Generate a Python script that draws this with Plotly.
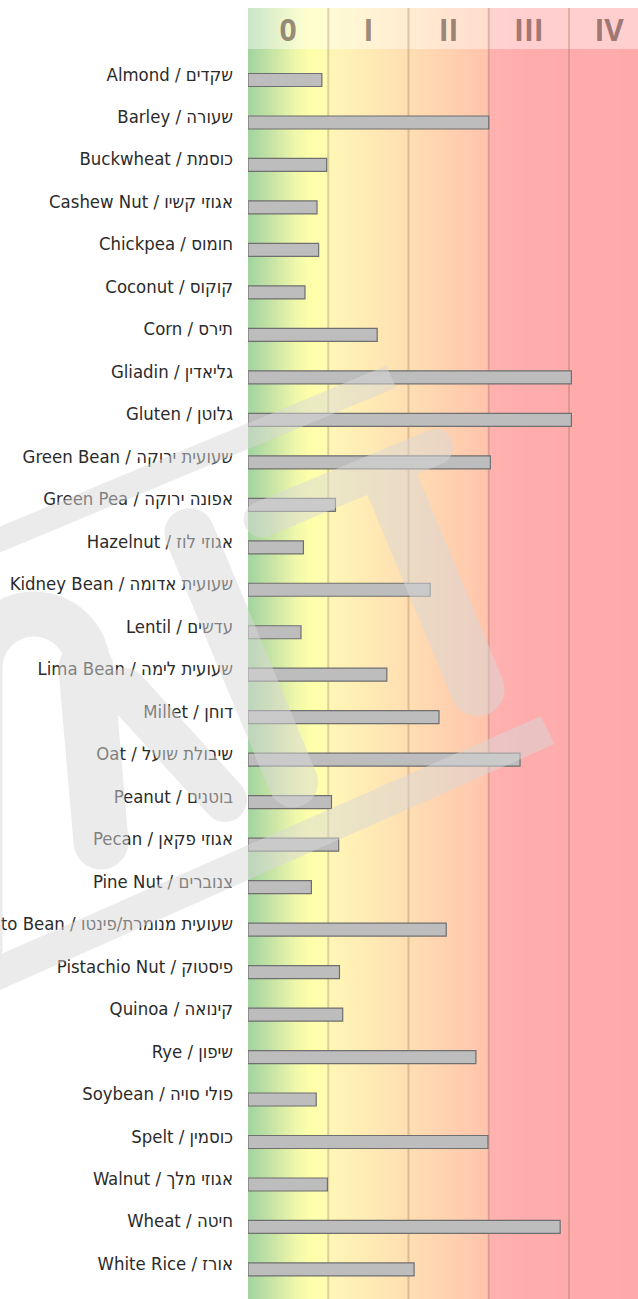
import math
import plotly.graph_objects as go

# ---------------- data ----------------
foods_en = ["Almond", "Barley", "Buckwheat", "Cashew Nut", "Chickpea", "Coconut", "Corn",
            "Gliadin", "Gluten", "Green Bean", "Green Pea", "Hazelnut", "Kidney Bean", "Lentil",
            "Lima Bean", "Millet", "Oat", "Peanut", "Pecan", "Pine Nut", "Pinto Bean",
            "Pistachio Nut", "Quinoa", "Rye", "Soybean", "Spelt", "Walnut", "Wheat", "White Rice"]
foods_he = ["שקדים", "שעורה", "כוסמת", "אגוזי קשיו", "חומוס", "קוקוס", "תירס",
            "גליאדין", "גלוטן", "שעועית ירוקה", "אפונה ירוקה", "אגוזי לוז", "שעועית אדומה", "עדשים",
            "שעועית לימה", "דוחן", "שיבולת שועל", "בוטנים", "אגוזי פקאן", "צנוברים", "שעועית מנומרת/פינטו",
            "פיסטוק", "קינואה", "שיפון", "פולי סויה", "כוסמין", "אגוזי מלך", "חיטה", "אורז"]
values = [0.92, 3.00, 0.98, 0.86, 0.88, 0.71, 1.61,
          4.03, 4.03, 3.02, 1.09, 0.69, 2.27, 0.66,
          1.73, 2.38, 3.39, 1.04, 1.13, 0.79, 2.47,
          1.14, 1.18, 2.84, 0.85, 2.99, 0.99, 3.89, 2.07]
class_labels = ["0", "I", "II", "III", "IV"]
class_centers = [0.5, 1.5, 2.5, 3.5, 4.5]

# ---------------- geometry / style ----------------
OFF = 0                      # page body margin (set to 0 by post_script)
W, H = 638, 1299
ML, MT = 248, 49
HEADER_TOP = 8
PW, PH = W - ML, H - MT
XMAX = 4.86
ROW0, ROWSTEP = 80.0, 42.48
y_top = (MT - ROW0) / ROWSTEP
y_bot = (H - ROW0) / ROWSTEP

n = len(foods_en)
ypos = list(range(n))
labels = [f"{e} / {h}" for e, h in zip(foods_en, foods_he)]

stops = [
    (0.00, (160, 212, 160)),
    (0.30, (200, 228, 166)),
    (0.60, (240, 248, 170)),
    (0.80, (255, 255, 170)),
    (0.995, (255, 252, 176)),
    (1.005, (255, 247, 182)),
    (2.00, (255, 222, 178)),
    (2.995, (255, 196, 172)),
    (3.005, (255, 178, 175)),
    (3.50, (255, 172, 172)),
    (5.00, (255, 170, 170)),
]


def color_at(x):
    for (x0, c0), (x1, c1) in zip(stops[:-1], stops[1:]):
        if x0 <= x <= x1:
            t = (x - x0) / (x1 - x0)
            return tuple(c0[k] + (c1[k] - c0[k]) * t for k in range(3))
    return stops[-1][1]


def rgb(c):
    return "rgb(%d,%d,%d)" % tuple(int(round(v)) for v in c)


shapes = []
NSTRIP = 195
hdr_y1 = (H - HEADER_TOP) / PH
for i in range(NSTRIP):
    xa = XMAX * i / NSTRIP
    xb = XMAX * (i + 1) / NSTRIP
    c = color_at((xa + xb) / 2)
    ch = tuple(v + (255 - v) * 0.42 for v in c)
    shapes.append(dict(type="rect", xref="paper", yref="paper",
                       x0=xa / XMAX, x1=xb / XMAX + 0.002, y0=0, y1=1,
                       fillcolor=rgb(c), line=dict(width=0), layer="below"))
    shapes.append(dict(type="rect", xref="paper", yref="paper",
                       x0=xa / XMAX, x1=xb / XMAX + 0.002, y0=1, y1=hdr_y1,
                       fillcolor=rgb(ch), line=dict(width=0), layer="below"))

for k in range(1, 5):
    shapes.append(dict(type="line", xref="paper", yref="paper",
                       x0=k / XMAX, x1=k / XMAX, y0=0, y1=hdr_y1,
                       line=dict(color="rgba(130,100,70,0.28)", width=2), layer="below"))

# ---------------- watermark ----------------
TH = math.radians(22.6)
UX, UY = math.cos(TH), -math.sin(TH)
VX, VY = math.sin(TH), math.cos(TH)


def logo(a, b):
    """rotated logo frame -> window pixels"""
    return (a * UX + b * VX, a * UY + b * VY)


def s2p(x, y):
    """window pixels -> paper"""
    return ((x - OFF - ML) / PW, (H - (y - OFF)) / PH)


def capsule(p0, p1, w, m=14):
    (a0, b0), (a1, b1) = p0, p1
    phi = math.atan2(b1 - b0, a1 - a0)
    r = w / 2
    pts = []
    for j in range(m + 1):
        ang = phi + math.pi / 2 - math.pi * j / m
        pts.append((a1 + r * math.cos(ang), b1 + r * math.sin(ang)))
    for j in range(m + 1):
        ang = phi - math.pi / 2 - math.pi * j / m
        pts.append((a0 + r * math.cos(ang), b0 + r * math.sin(ang)))
    return pts


def arch(ac, bc, R, t, m=24):
    pts = []
    for j in range(m + 1):
        ang = math.pi + math.pi * j / m
        pts.append((ac + (R + t / 2) * math.cos(ang), bc + (R + t / 2) * math.sin(ang)))
    for j in range(m + 1):
        ang = 2 * math.pi - math.pi * j / m
        pts.append((ac + (R - t / 2) * math.cos(ang), bc + (R - t / 2) * math.sin(ang)))
    return pts


logo_polys = [
    [(-900, 486), (216, 486), (217, 510), (-900, 510)],          # upper band
    [(-900, 892), (224, 869), (226, 900), (-900, 926)],          # lower band
    capsule((42, 580), (230, 580), 36),                          # T bar
    capsule((176, 600), (176, 820), 54),                         # T stem
    capsule((-30, 565), (-30, 835), 50),                         # right stroke
]
screen_polys = [
    capsule((-20, 668), (-20, 950), 45),                         # left leg
    arch(34, 668, 54, 45),                                       # arch top
    capsule((86, 668), (101, 842), 55),                          # inner leg
    capsule((125, 690), (225, 800), 44),                         # diagonal
]


def signed_area(p):
    s = 0
    for (x0, y0), (x1, y1) in zip(p, p[1:] + p[:1]):
        s += x0 * y1 - x1 * y0
    return s


all_polys = [[s2p(*logo(a, b)) for a, b in p] for p in logo_polys] + \
            [[s2p(x, y) for x, y in p] for p in screen_polys]
path = ""
for pp in all_polys:
    if signed_area(pp) < 0:
        pp = pp[::-1]
    path += "M " + " L ".join("%.5f,%.5f" % q for q in pp) + " Z "

shapes.append(dict(type="path", xref="paper", yref="paper", path=path,
                   fillcolor="rgba(215,215,215,0.5)", line=dict(width=0),
                   layer="above", fillrule="nonzero"))

# ---------------- figure ----------------
fig = go.Figure()
fig.add_trace(go.Bar(
    orientation="h", x=values, y=ypos, width=0.306,
    marker=dict(color="#bdbdbd", line=dict(color="#6f6f6f", width=1.2)),
    hoverinfo="skip",
))

fig.update_layout(
    width=W, height=H,
    margin=dict(l=ML, r=0, t=MT, b=0, pad=0, autoexpand=False),
    paper_bgcolor="white", plot_bgcolor="white",
    showlegend=False, shapes=shapes, bargap=0,
    xaxis=dict(range=[0, XMAX], side="top", showgrid=False, zeroline=False, showline=False,
               automargin=False, fixedrange=True,
               tickmode="array", tickvals=class_centers, ticktext=class_labels, ticks="",
               ticklabelstandoff=1,
               tickfont=dict(family="Open Sans", size=30, color="rgba(75,45,40,0.55)", weight="bold")),
    yaxis=dict(range=[y_bot, y_top], showgrid=False, zeroline=False, showline=False,
               automargin=False, fixedrange=True,
               tickmode="array", tickvals=[p - 0.14 for p in ypos], ticktext=labels, ticks="",
               ticklabelstandoff=14,
               tickfont=dict(family="DejaVu Sans Condensed, DejaVu Sans", size=18.4, color="#2b2b2b")),
)

fig.write_html("out.html",
               config={"displayModeBar": False, "staticPlot": True},
               post_script="document.body.style.margin='0';document.body.style.overflow='hidden';")
